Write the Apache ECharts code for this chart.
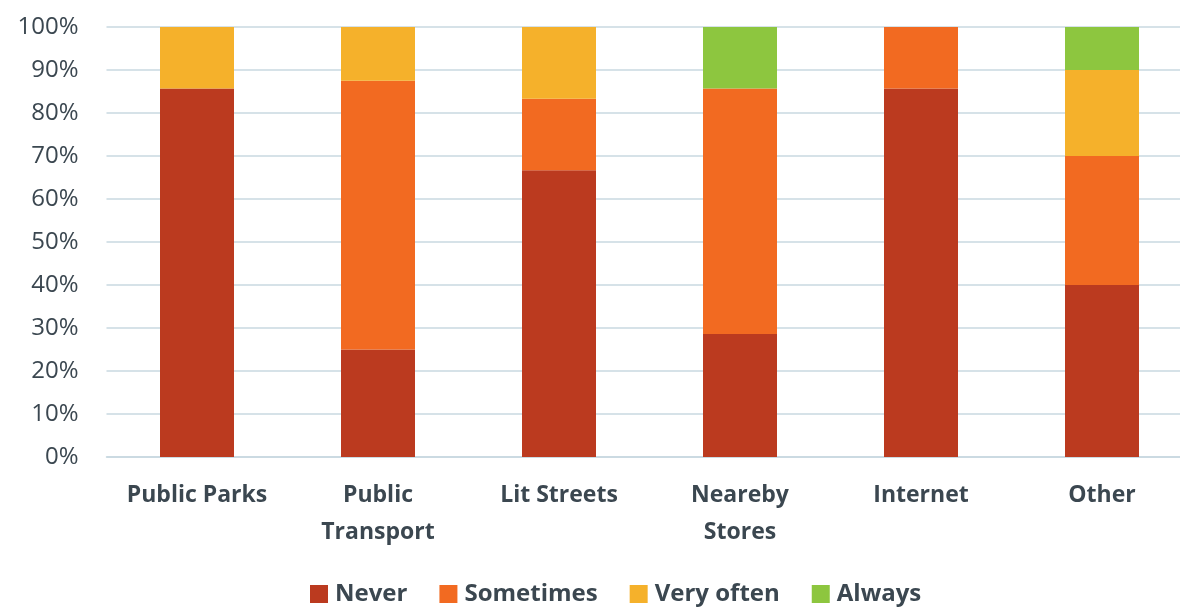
<!DOCTYPE html>
<html><head><meta charset="utf-8">
<script src="https://cdn.jsdelivr.net/npm/echarts@6/dist/echarts.min.js"></script>
<style>html,body{margin:0;padding:0;background:#fff}#c{width:1180px;height:607px}</style>
</head><body><div id="c"></div>
<script>
const categories = ['Public Parks', 'Public\nTransport', 'Lit Streets', 'Neareby\nStores', 'Internet', 'Other'];
const seriesNames = ['Never', 'Sometimes', 'Very often', 'Always'];
const never = [85.7, 25, 66.7, 28.6, 85.7, 40];
const sometimes = [0, 62.5, 16.6, 57.1, 14.3, 30];
const veryOften = [14.3, 12.5, 16.7, 0, 0, 20];
const always = [0, 0, 0, 14.3, 0, 10];
const yTicks = [0, 10, 20, 30, 40, 50, 60, 70, 80, 90, 100];
const colors = ['#bb3a1f', '#f26a21', '#f5b12b', '#8dc63f'];
const values = [never, sometimes, veryOften, always];

const chart = echarts.init(document.getElementById('c'));
const font = 'Open Sans, Lato, sans-serif';
chart.setOption({
  animation: false,
  grid: { left: 106.5, width: 1086, top: 27, bottom: 150, containLabel: false, outerBoundsMode: 'none' },
  legend: {
    data: seriesNames, bottom: 1, left: 310, itemWidth: 18, itemHeight: 18, itemGap: 32,
    icon: 'rect', padding: 0,
    textStyle: { fontFamily: font, fontWeight: 'bold', fontSize: 24, color: '#3b4750', padding: [0,0,0,2] }
  },
  xAxis: {
    type: 'category', data: categories,
    axisLine: { show: true, lineStyle: { color: '#c8d8e0', width: 1.5 } },
    axisTick: { show: false },
    axisLabel: { interval: 0, margin: 20, fontFamily: font, fontWeight: 'bold', fontSize: 23, lineHeight: 37, color: '#3b4750' }
  },
  yAxis: {
    type: 'value', min: 0, max: 100, interval: 10,
    axisLine: { show: false }, axisTick: { show: false },
    splitLine: { lineStyle: { color: '#c8d8e0', width: 1.5 } },
    axisLabel: { margin: 28, fontFamily: font, fontSize: 24, color: '#3b4750', formatter: v => yTicks.includes(v) ? v + '%' : '' }
  },
  series: seriesNames.map((n, i) => ({
    name: n, type: 'bar', stack: 'total', data: values[i], barWidth: 74,
    itemStyle: { color: colors[i] }
  }))
});
</script></body></html>
